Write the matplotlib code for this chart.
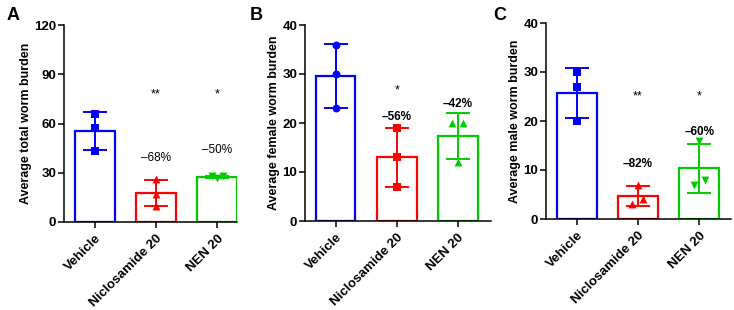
import matplotlib.pyplot as plt
import numpy as np

plt.rcParams['font.family'] = ['Liberation Sans', 'DejaVu Sans']

# data (worms per mouse, n=3)
groups = ['Vehicle', 'Niclosamide 20', 'NEN 20']
total_vehicle = [66, 57, 43]
total_niclo = [26, 17, 10]
total_nen = [28, 27, 28]
female_vehicle = [36, 30, 23]
female_niclo = [19, 13, 7]
female_nen = [20, 20, 12]
male_vehicle = [30, 27, 20]
male_niclo = [7, 3, 4]
male_nen = [16, 7, 8]

pct_total = ['\u201368%', '\u201350%']
pct_female = ['\u201356%', '\u201342%']
pct_male = ['\u201382%', '\u201360%']
stars_total = ['**', '*']
stars_female = ['*', '']
stars_male = ['**', '*']

COLORS = ['#0000FF', '#FF0000', '#00CC00']
W, H = 734, 310


def px_axes(fig, left, right, top, bottom):
    return fig.add_axes([left / W, 1 - bottom / H, (right - left) / W, (bottom - top) / H])


def panel(ax, values, markers, jitter, ymax, ystep, ylabel, pct, pct_y, stars, star_y,
          pct_bold, xright):
    x = np.arange(len(values))
    for i, vals in enumerate(values):
        vals = np.array(vals, dtype=float)
        m, sd = vals.mean(), vals.std(ddof=1)
        c = COLORS[i]
        ax.bar(x[i], m, width=0.65, facecolor='white', edgecolor=c, linewidth=1.6, zorder=2)
        ax.errorbar(x[i], m, yerr=sd, fmt='none', ecolor=c, elinewidth=1.4,
                    capsize=8.5, capthick=1.4, zorder=3)
        ax.scatter(x[i] + np.array(jitter[i]), vals, marker=markers[i], s=32,
                   color=c, zorder=4, linewidths=0)
    for j in range(2):
        ax.text(x[j + 1], pct_y[j], pct[j], ha='center', va='center', fontsize=8.5,
                fontweight='bold' if pct_bold else 'normal')
        if stars[j]:
            ax.text(x[j + 1], star_y, stars[j], ha='center', va='center', fontsize=9)
    ax.set_xlim(-0.5, xright)
    ax.set_ylim(0, ymax)
    ax.set_yticks(np.arange(0, ymax + 1, ystep))
    ax.set_xticks(x)
    ax.set_xticklabels(groups, rotation=45, ha='right', rotation_mode='anchor')
    ax.set_ylabel(ylabel, fontsize=9, fontweight='bold', labelpad=1.5)
    for s in ['top', 'right']:
        ax.spines[s].set_visible(False)
    for s in ['left', 'bottom']:
        ax.spines[s].set_linewidth(1.1)
    ax.tick_params(width=1.1, length=4, labelsize=9.5)
    ax.tick_params(axis='y', pad=1.5)
    for lab in ax.get_xticklabels() + ax.get_yticklabels():
        lab.set_fontweight('bold')


fig = plt.figure(figsize=(W / 100, H / 100), dpi=100)

axA = px_axes(fig, 64, 237, 25, 222)
panel(axA, [total_vehicle, total_niclo, total_nen], ['s', '^', 'v'],
      [[0, 0, 0], [0, 0, 0], [-0.09, 0.0, 0.09]], 120, 30,
      'Average total worm burden', pct_total, [39, 44], stars_total, 78, False, 2.32)

axB = px_axes(fig, 305, 491, 25, 221)
panel(axB, [female_vehicle, female_niclo, female_nen], ['o', 's', '^'],
      [[0, 0, 0], [0, 0, 0], [-0.09, 0.08, 0.0]], 40, 10,
      'Average female worm burden', pct_female, [21.3, 23.8], stars_female, 26.6, True, 2.54)

axC = px_axes(fig, 546, 731, 23, 219)
panel(axC, [male_vehicle, male_niclo, male_nen], ['s', '^', 'v'],
      [[0, 0, 0], [0, -0.09, 0.08], [0.0, -0.08, 0.09]], 40, 10,
      'Average male worm burden', pct_male, [11.2, 17.8], stars_male, 25, True, 2.52)

for lab, xp in zip('ABC', [7, 250, 493]):
    fig.text(xp / W, 1 - 15 / H, lab, fontsize=13, fontweight='bold', va='center')

fig.savefig('out.png', dpi=100)
